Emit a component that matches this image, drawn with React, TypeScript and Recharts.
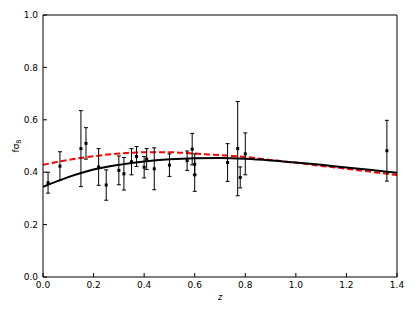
import React from "react";
import { ComposedChart, Line, Scatter, ErrorBar, XAxis, YAxis, Label } from "recharts";

// model curves, every 0.1 in z
const curveZ = [0, 0.1, 0.2, 0.3, 0.4, 0.5, 0.6, 0.7, 0.8, 0.9, 1.0, 1.1, 1.2, 1.3, 1.4];
const solidCurve = [0.344, 0.381, 0.41, 0.428, 0.441, 0.449, 0.453, 0.454, 0.451, 0.445, 0.437, 0.428, 0.418, 0.408, 0.398];
const dashedCurve = [0.428, 0.447, 0.461, 0.471, 0.476, 0.476, 0.471, 0.465, 0.458, 0.447, 0.436, 0.424, 0.413, 0.401, 0.389];

// measurements with 1-sigma errors
const pointZ = [0.02, 0.067, 0.15, 0.17, 0.22, 0.25, 0.3, 0.32, 0.35, 0.37, 0.4, 0.41, 0.44, 0.5, 0.57, 0.59, 0.6, 0.6, 0.73, 0.77, 0.78, 0.8, 1.36];
const pointFs8 = [0.36, 0.423, 0.49, 0.51, 0.42, 0.351, 0.407, 0.394, 0.44, 0.46, 0.419, 0.45, 0.413, 0.427, 0.444, 0.488, 0.43, 0.39, 0.437, 0.49, 0.38, 0.47, 0.482];
const pointErr = [0.04, 0.055, 0.145, 0.06, 0.07, 0.058, 0.055, 0.062, 0.05, 0.038, 0.041, 0.04, 0.08, 0.043, 0.037, 0.06, 0.04, 0.063, 0.072, 0.18, 0.04, 0.08, 0.116];

const xTicks = [0, 0.2, 0.4, 0.6, 0.8, 1.0, 1.2, 1.4];
const yTicks = [0, 0.2, 0.4, 0.6, 0.8, 1.0];

const solidData = curveZ.map((z, i) => ({ z, v: solidCurve[i] }));
const dashedData = curveZ.map((z, i) => ({ z, v: dashedCurve[i] }));
const pointData = pointZ.map((z, i) => ({ z, fs8: pointFs8[i], err: pointErr[i] }));

const font = "DejaVu Sans";
const tickStyle = { fill: "#000", fontSize: 9, fontFamily: font };
const fmt = (v: number) => v.toFixed(1);

const Square = (props: any) => (
  <rect x={props.cx - 1.5} y={props.cy - 1.5} width={3} height={3} fill="#000" />
);

const YTitle = () => (
  <text transform="translate(18.5,146) rotate(-90)" textAnchor="middle" fontSize={9} fontFamily={font} fill="#000">
    fσ<tspan fontSize={6.5} dy={2}>8</tspan>
  </text>
);

export default function App() {
  return (
    <div style={{ position: "absolute", left: 0, top: 0 }}>
      <ComposedChart width={415} height={312} margin={{ top: 10, right: 13, bottom: 15, left: 0 }}>
        <XAxis
          type="number"
          dataKey="z"
          domain={[0, 1.4]}
          ticks={xTicks}
          tickFormatter={fmt}
          tick={tickStyle}
          tickSize={-4}
          tickMargin={9}
          height={20}
          stroke="#000"
          allowDataOverflow
        >
          <Label value="z" position="insideBottom" offset={-3} style={{ fontStyle: "italic", fontSize: 8, fontFamily: font, fill: "#000" }} />
        </XAxis>
        <XAxis
          xAxisId="top"
          orientation="top"
          type="number"
          dataKey="z"
          domain={[0, 1.4]}
          ticks={xTicks}
          tick={false}
          tickSize={-4}
          height={5}
          stroke="#000"
        />
        <YAxis
          type="number"
          domain={[0, 1]}
          ticks={yTicks}
          tickFormatter={fmt}
          tick={tickStyle}
          tickSize={-4}
          tickMargin={9}
          width={43}
          stroke="#000"
        >
          <Label content={<YTitle />} />
        </YAxis>
        <YAxis
          yAxisId="right"
          orientation="right"
          type="number"
          domain={[0, 1]}
          ticks={yTicks}
          tick={false}
          tickSize={-4}
          width={5}
          stroke="#000"
        />
        <Line data={dashedData} dataKey="v" type="monotone" stroke="#ff0000" strokeWidth={2} strokeDasharray="6 3" dot={false} isAnimationActive={false} />
        <Line data={solidData} dataKey="v" type="monotone" stroke="#000" strokeWidth={2} dot={false} isAnimationActive={false} />
        <Scatter data={pointData} dataKey="fs8" shape={<Square />} isAnimationActive={false}>
          <ErrorBar dataKey="err" direction="y" width={2} stroke="#000" strokeWidth={1} isAnimationActive={false} />
        </Scatter>
      </ComposedChart>
    </div>
  );
}
